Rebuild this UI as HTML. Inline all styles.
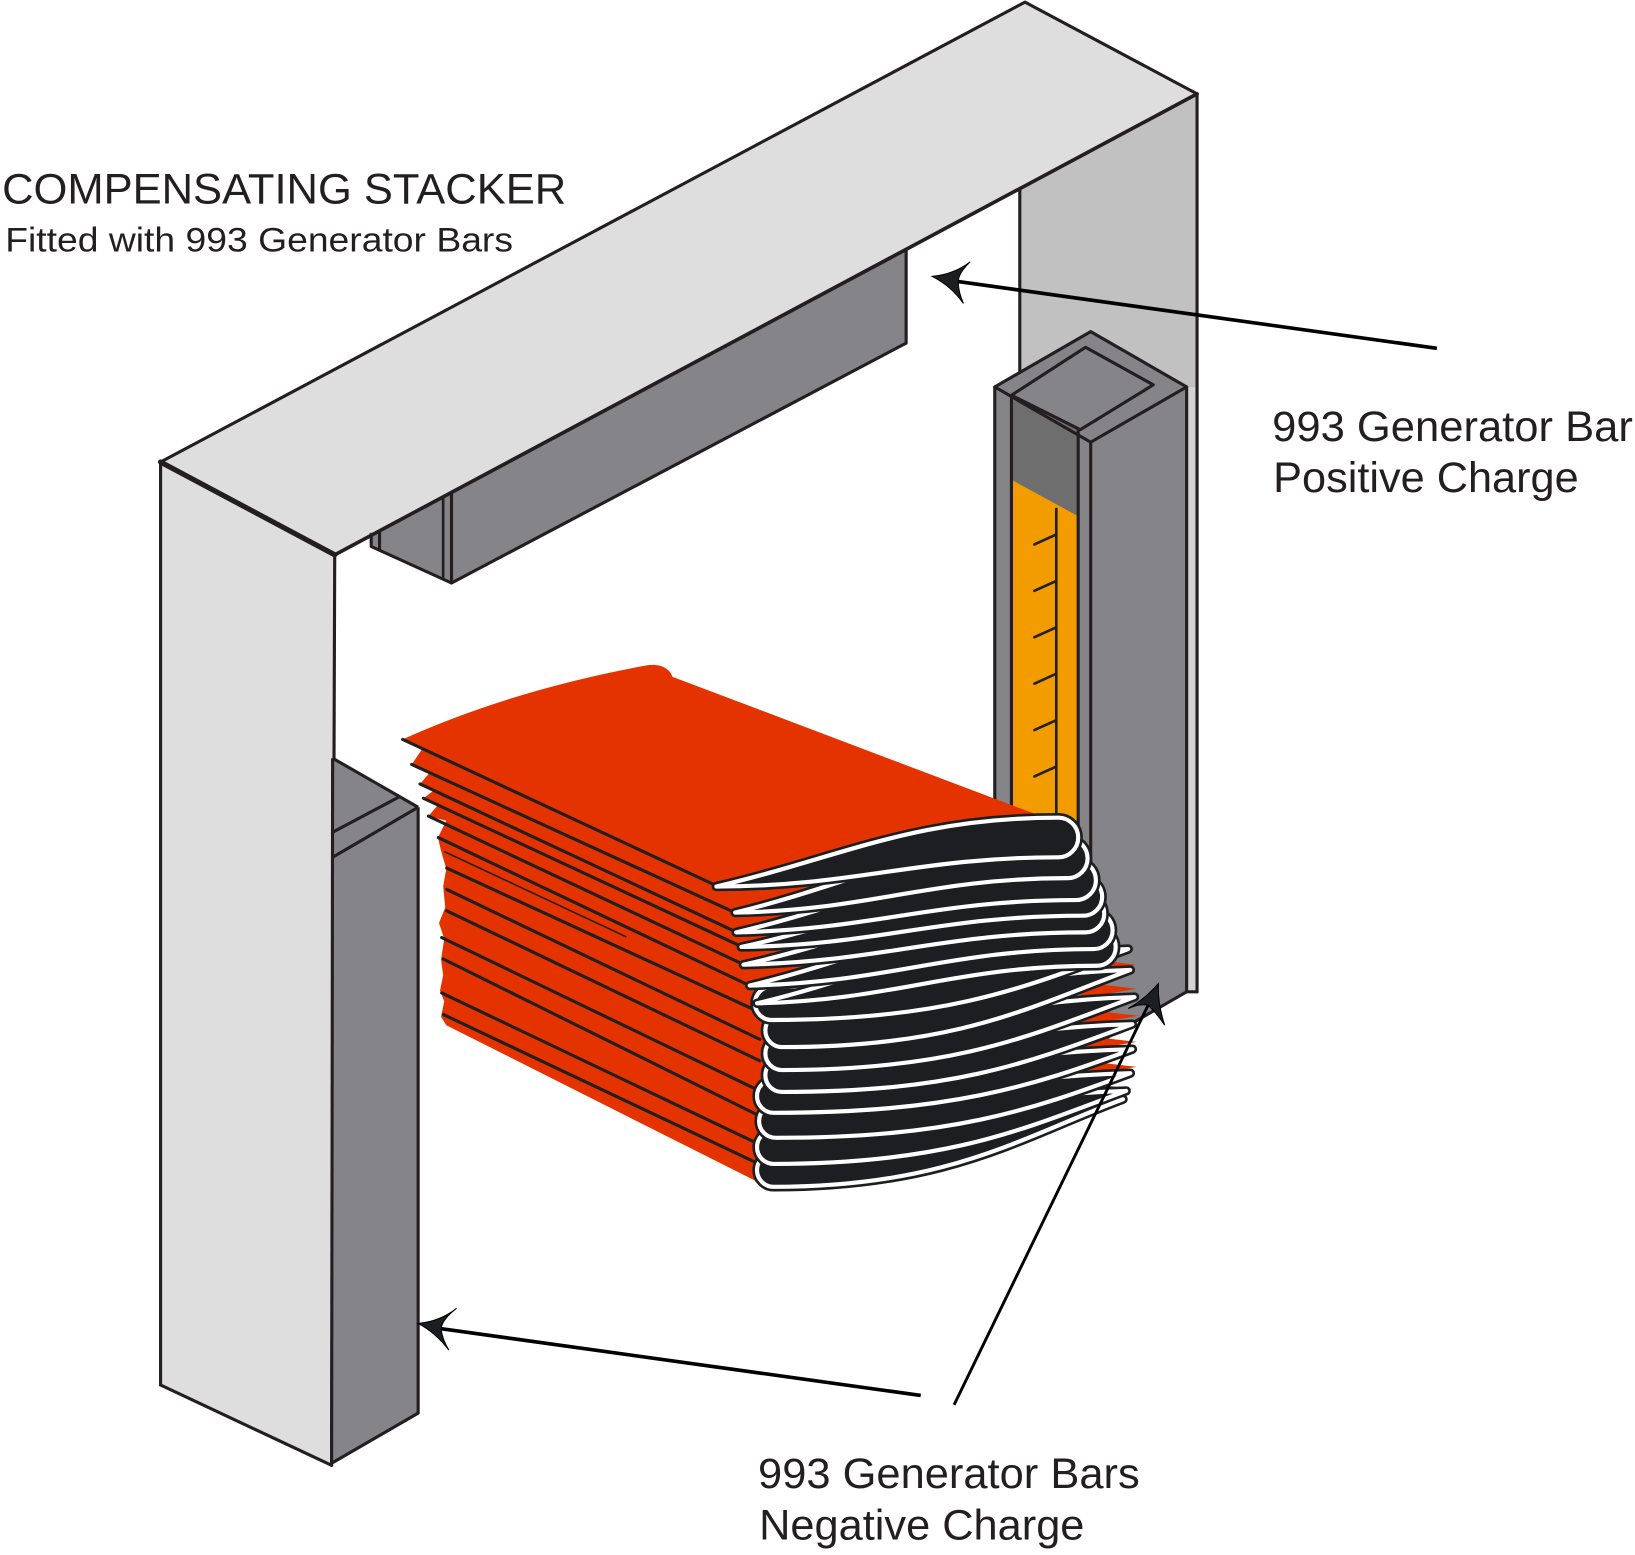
<!DOCTYPE html>
<html>
<head>
<meta charset="utf-8">
<style>
  html,body{margin:0;padding:0;background:#ffffff;}
  svg{display:block;}
  text{font-family:"Liberation Sans", Arial, sans-serif; fill:#231f20;}
</style>
</head>
<body>
<svg xmlns="http://www.w3.org/2000/svg" width="1635" height="1555" viewBox="0 0 1568 1491" preserveAspectRatio="none">
  <rect x="0" y="0" width="1568" height="1491" fill="#ffffff"/>

  <!-- Right pillar (inner face) -->
  <polygon points="978,181 1148,90 1148,951 1138,951 1138,400 978,400" fill="#c1c1c1"/>
  <rect x="1138" y="371" width="10" height="580" fill="#d3d3d3"/>
  <g stroke="#231f20" stroke-width="3" fill="none" stroke-linecap="round">
    <line x1="978" y1="181" x2="978" y2="360"/>
    <line x1="1148" y1="90" x2="1148" y2="951"/>
    <line x1="1148" y1="951" x2="1138" y2="951"/>
  </g>

  <!-- Beam top face -->
  <polygon points="154,443 983,2 1148,90 321,532" fill="#dedede"/>
  <!-- Left pillar front face -->
  <polygon points="154,443 321,532 318,1405 154,1328" fill="#dedede"/>

  <!-- Hanging generator bar under beam -->
  <polygon points="433,472 869,239 869,329 433,559" fill="#858489"/>
  <polygon points="356,512 433,472 433,559 356,524" fill="#858489"/>
  <g stroke="#231f20" stroke-width="3" fill="none" stroke-linejoin="round">
    <polygon points="433,472 869,239 869,329 433,559"/>
    <polyline points="356,511 356,524 433,559"/>
    <line x1="364" y1="508" x2="364" y2="528"/>
    <line x1="425" y1="477" x2="425" y2="555" stroke-width="2.5"/>
  </g>

  <!-- Beam outlines -->
  <g stroke="#231f20" fill="none" stroke-linecap="round" stroke-linejoin="round">
    <polyline points="154,443 983,2 1148,90" stroke-width="3"/>
    <line x1="1148" y1="90" x2="321" y2="532" stroke-width="3.5"/>
    <line x1="154" y1="443" x2="321" y2="532" stroke-width="5"/>
    <line x1="154" y1="443" x2="154" y2="1328" stroke-width="3"/>
    <line x1="154" y1="1328" x2="318" y2="1405" stroke-width="3"/>
    <line x1="321" y1="532" x2="318" y2="1405" stroke-width="3"/>
  </g>

  <!-- Negative bar (left) -->
  <polygon points="319,727 401,774 319,822" fill="#858489"/>
  <polygon points="319,822 401,774 401,1355 318,1402" fill="#858489"/>
  <g stroke="#231f20" stroke-width="3" fill="none" stroke-linejoin="round">
    <line x1="319" y1="727" x2="401" y2="774"/>
    <line x1="319" y1="822" x2="401" y2="774"/>
    <line x1="319" y1="798" x2="383" y2="764"/>
    <polyline points="401,774 401,1355 318,1403"/>
    <line x1="319" y1="727" x2="318" y2="1403"/>
  </g>

  <!-- Positive bar (right vertical) -->
  <polygon points="954,371 1046,424 1046,1004 954,951" fill="#858489"/>
  <polygon points="1046,424 1138,371 1138,951 1046,1004" fill="#858489"/>
  <polygon points="1046,318 1138,371 1046,424 954,371" fill="#858489"/>
  <!-- window -->
  <polygon points="970,379 1035,413 1035,820 970,820" fill="#6e6e6e"/>
  <polygon points="970,460 1034,495 1034,820 970,820" fill="#f29c00"/>
  <g stroke="#231f20" stroke-width="3" fill="none" stroke-linejoin="round" stroke-linecap="round">
    <polygon points="1046,318 1138,371 1046,424 954,371"/>
    <polyline points="970,379 1041,333 1106,369 1036,412 970,379"/>
    <line x1="954" y1="371" x2="954" y2="820"/>
    <line x1="970" y1="379" x2="970" y2="820"/>
    <line x1="1034" y1="413" x2="1034" y2="820"/>
    <line x1="1046" y1="424" x2="1046" y2="1004"/>
    <line x1="1138" y1="371" x2="1138" y2="951"/>
    <line x1="1138" y1="951" x2="1046" y2="1004"/>
    <!-- ruler -->
    <line x1="1013" y1="488" x2="1013" y2="800" stroke-width="2.5"/>
    <line x1="992" y1="522" x2="1013" y2="512.5" stroke-width="2.5"/>
    <line x1="992" y1="566.5" x2="1013" y2="557" stroke-width="2.5"/>
    <line x1="992" y1="611" x2="1013" y2="601.5" stroke-width="2.5"/>
    <line x1="992" y1="655.5" x2="1013" y2="646" stroke-width="2.5"/>
    <line x1="992" y1="700" x2="1013" y2="690.5" stroke-width="2.5"/>
    <line x1="992" y1="744.5" x2="1013" y2="735" stroke-width="2.5"/>
  </g>

  <!-- Sheets: orange body -->
  <path fill="#e53300" d="M386,709 Q490,662 620,638 C632,636 642,640 645,649 L1010,787 L1025,800 L1040,860 L900,990 L760,1126 L728,1134 L428,983
    L423,975 L426,960 L422,950 L425,935 L423,920 L426,900 L421,885 L427,870 L425,850 L428,833 L423,816 L420,803
    L428,787 L410.8,782.5 L420,772 L406,765.4 L416,758 L402.8,751.7 L412,741 L394.8,733 L405,718 Z"/>
  <!-- orange right tips -->
  <g fill="#e53300">
    <polygon points="1030,918 1090,925 1038,934"/>
    <polygon points="1030,941 1090,948 1038,957"/>
    <polygon points="1030,967 1092,974 1038,983"/>
    <polygon points="1030,992 1090,999 1038,1008"/>
    <polygon points="1030,1016 1090,1023 1038,1032"/>
    <polygon points="1030,1037 1086,1044 1038,1053"/>
  </g>
  <!-- sheet edge lines -->
  <g stroke="#231f20" stroke-width="3" stroke-linecap="round">
    <line x1="386.2" y1="709" x2="687.2" y2="849.3"/>
    <line x1="394.8" y1="733" x2="704.8" y2="875"/>
    <line x1="402.8" y1="751.7" x2="706.4" y2="893.8"/>
    <line x1="406" y1="765.4" x2="711.2" y2="907.6"/>
    <line x1="410.8" y1="782.5" x2="712.8" y2="924.7"/>
    <line x1="420.3" y1="803.1" x2="719.2" y2="945.2"/>
    <line x1="428.4" y1="832.3" x2="725.6" y2="969.2"/>
    <line x1="428.4" y1="852.8" x2="728.8" y2="996.6"/>
    <line x1="428.4" y1="873.3" x2="728.8" y2="1017.2"/>
    <line x1="423.6" y1="899" x2="725.6" y2="1044.6"/>
    <line x1="425.1" y1="919.5" x2="725.6" y2="1068.6"/>
    <line x1="423.6" y1="952.1" x2="725.6" y2="1096"/>
    <line x1="425.1" y1="972.7" x2="728.8" y2="1116.5"/>
    <line x1="426.7" y1="816.8" x2="600" y2="898" stroke-width="1.5"/>
  </g>

  <!-- Folded loops -->
  <g stroke-linejoin="round">
    <!-- lower loops (round on left), bottom first -->
    <path fill="#1d1e21" stroke="#1d1e21" stroke-width="9" d="M1077,1054 C930,1058 880,1106 742,1106 A16,16 0 0 0 742,1138 C910,1138 980,1090 1077,1054 Z"/>
    <path fill="#1d1e21" stroke="#ffffff" stroke-width="4" d="M1077,1054 C930,1058 880,1106 742,1106 A16,16 0 0 0 742,1138 C910,1138 980,1090 1077,1054 Z"/>
    <path fill="#1d1e21" stroke="#1d1e21" stroke-width="9" d="M1080,1046 C933,1050 880,1084 742,1084 A16,16 0 0 0 742,1116 C910,1116 983,1082 1080,1046 Z"/>
    <path fill="#1d1e21" stroke="#ffffff" stroke-width="4" d="M1080,1046 C933,1050 880,1084 742,1084 A16,16 0 0 0 742,1116 C910,1116 983,1082 1080,1046 Z"/>
    <path fill="#1d1e21" stroke="#1d1e21" stroke-width="9" d="M1084,1029 C937,1033 882,1059 744,1059 A16,16 0 0 0 744,1091 C912,1091 987,1065 1084,1029 Z"/>
    <path fill="#1d1e21" stroke="#ffffff" stroke-width="4" d="M1084,1029 C937,1033 882,1059 744,1059 A16,16 0 0 0 744,1091 C912,1091 987,1065 1084,1029 Z"/>
    <path fill="#1d1e21" stroke="#1d1e21" stroke-width="9" d="M1086,1006 C939,1010 880,1035 742,1035 A16,16 0 0 0 742,1067 C910,1067 989,1042 1086,1006 Z"/>
    <path fill="#1d1e21" stroke="#ffffff" stroke-width="4" d="M1086,1006 C939,1010 880,1035 742,1035 A16,16 0 0 0 742,1067 C910,1067 989,1042 1086,1006 Z"/>
    <path fill="#1d1e21" stroke="#1d1e21" stroke-width="9" d="M1086,982 C939,986 888,1015 750,1015 A16,16 0 0 0 750,1047 C918,1047 989,1018 1086,982 Z"/>
    <path fill="#1d1e21" stroke="#ffffff" stroke-width="4" d="M1086,982 C939,986 888,1015 750,1015 A16,16 0 0 0 750,1047 C918,1047 989,1018 1086,982 Z"/>
    <path fill="#1d1e21" stroke="#1d1e21" stroke-width="9" d="M1088,956 C941,960 888,994 750,994 A16,16 0 0 0 750,1026 C918,1026 991,992 1088,956 Z"/>
    <path fill="#1d1e21" stroke="#ffffff" stroke-width="4" d="M1088,956 C941,960 888,994 750,994 A16,16 0 0 0 750,1026 C918,1026 991,992 1088,956 Z"/>
    <path fill="#1d1e21" stroke="#1d1e21" stroke-width="9" d="M1084,930 C937,934 888,972 750,972 A16,16 0 0 0 750,1004 C918,1004 987,966 1084,930 Z"/>
    <path fill="#1d1e21" stroke="#ffffff" stroke-width="4" d="M1084,930 C937,934 888,972 750,972 A16,16 0 0 0 750,1004 C918,1004 987,966 1084,930 Z"/>
    <path fill="#1d1e21" stroke="#1d1e21" stroke-width="9" d="M1082,910 C935,914 885,946 740,946 A16,16 0 0 0 740,978 C910,978 985,946 1082,910 Z"/>
    <path fill="#1d1e21" stroke="#ffffff" stroke-width="4" d="M1082,910 C935,914 885,946 740,946 A16,16 0 0 0 740,978 C910,978 985,946 1082,910 Z"/>

    <!-- upper loops (round on right), lowest first -->
    <path fill="#1d1e21" stroke="#1d1e21" stroke-width="9" d="M726,962 C846,934 915,890 1052,890 A18,18 0 0 1 1052,926 C915,926 860,959 726,962 Z"/>
    <path fill="#1d1e21" stroke="#ffffff" stroke-width="4" d="M726,962 C846,934 915,890 1052,890 A18,18 0 0 1 1052,926 C915,926 860,959 726,962 Z"/>
    <path fill="#1d1e21" stroke="#1d1e21" stroke-width="9" d="M719,945 C839,916 910,874 1049,874 A18,18 0 0 1 1049,910 C910,910 855,942 719,945 Z"/>
    <path fill="#1d1e21" stroke="#ffffff" stroke-width="4" d="M719,945 C839,916 910,874 1049,874 A18,18 0 0 1 1049,910 C910,910 855,942 719,945 Z"/>
    <path fill="#1d1e21" stroke="#1d1e21" stroke-width="9" d="M713,925 C833,898 905,858 1041,858 A18,18 0 0 1 1041,894 C905,894 848,922 713,925 Z"/>
    <path fill="#1d1e21" stroke="#ffffff" stroke-width="4" d="M713,925 C833,898 905,858 1041,858 A18,18 0 0 1 1041,894 C905,894 848,922 713,925 Z"/>
    <path fill="#1d1e21" stroke="#1d1e21" stroke-width="9" d="M711,908 C831,882 900,842 1039,842 A18,18 0 0 1 1039,878 C900,878 845,906 711,908 Z"/>
    <path fill="#1d1e21" stroke="#ffffff" stroke-width="4" d="M711,908 C831,882 900,842 1039,842 A18,18 0 0 1 1039,878 C900,878 845,906 711,908 Z"/>
    <path fill="#1d1e21" stroke="#1d1e21" stroke-width="9" d="M706,894 C826,866 895,825 1032,825 A19,19 0 0 1 1032,863 C895,863 840,891 706,894 Z"/>
    <path fill="#1d1e21" stroke="#ffffff" stroke-width="4" d="M706,894 C826,866 895,825 1032,825 A19,19 0 0 1 1032,863 C895,863 840,891 706,894 Z"/>
    <path fill="#1d1e21" stroke="#1d1e21" stroke-width="9" d="M705,875 C825,846 890,804 1024,804 A19,19 0 0 1 1024,842 C890,842 835,873 705,875 Z"/>
    <path fill="#1d1e21" stroke="#ffffff" stroke-width="4" d="M705,875 C825,846 890,804 1024,804 A19,19 0 0 1 1024,842 C890,842 835,873 705,875 Z"/>
    <path fill="#1d1e21" stroke="#1d1e21" stroke-width="9" d="M687,850 C807,822 875,784 1015,784 A19,19 0 0 1 1015,822 C880,822 820,850 687,850 Z"/>
    <path fill="#1d1e21" stroke="#ffffff" stroke-width="4" d="M687,850 C807,822 875,784 1015,784 A19,19 0 0 1 1015,822 C880,822 820,850 687,850 Z"/>
  </g>

  <!-- Arrows -->
  <g stroke="#000000" fill="none" stroke-linecap="butt">
    <line x1="919" y1="270" x2="1378" y2="334" stroke-width="3.5"/>
    <line x1="423" y1="1274" x2="883" y2="1338" stroke-width="3.5"/>
    <line x1="915" y1="1347" x2="1101" y2="964" stroke-width="2.8"/>
  </g>
  <g fill="#1d1e21" stroke="#000" stroke-width="1">
    <path d="M894,265 Q915,263 930.5,251 Q919,262 919,270 Q919,280 924,291 Q912,274 894,265 Z"/>
    <path d="M401,1269 Q422,1267 437.8,1254.6 Q424,1265 423,1274 Q424,1284 430.5,1294.6 Q418,1278 401,1269 Z"/>
    <path d="M1111,943 Q1098,958 1082,967 Q1094,962 1101,964 Q1108,970 1117,983 Q1110,962 1111,943 Z"/>
  </g>

  <!-- Labels -->
  <text x="2" y="195" font-size="41" textLength="541" lengthAdjust="spacingAndGlyphs">COMPENSATING STACKER</text>
  <text x="5" y="241" font-size="33" textLength="487" lengthAdjust="spacingAndGlyphs">Fitted with 993 Generator Bars</text>
  <text x="1220" y="423" font-size="41" textLength="346" lengthAdjust="spacingAndGlyphs">993 Generator Bar</text>
  <text x="1221" y="472" font-size="41" textLength="293" lengthAdjust="spacingAndGlyphs">Positive Charge</text>
  <text x="727" y="1427" font-size="41" textLength="366" lengthAdjust="spacingAndGlyphs">993 Generator Bars</text>
  <text x="728" y="1476" font-size="41" textLength="312" lengthAdjust="spacingAndGlyphs">Negative Charge</text>
</svg>
</body>
</html>
